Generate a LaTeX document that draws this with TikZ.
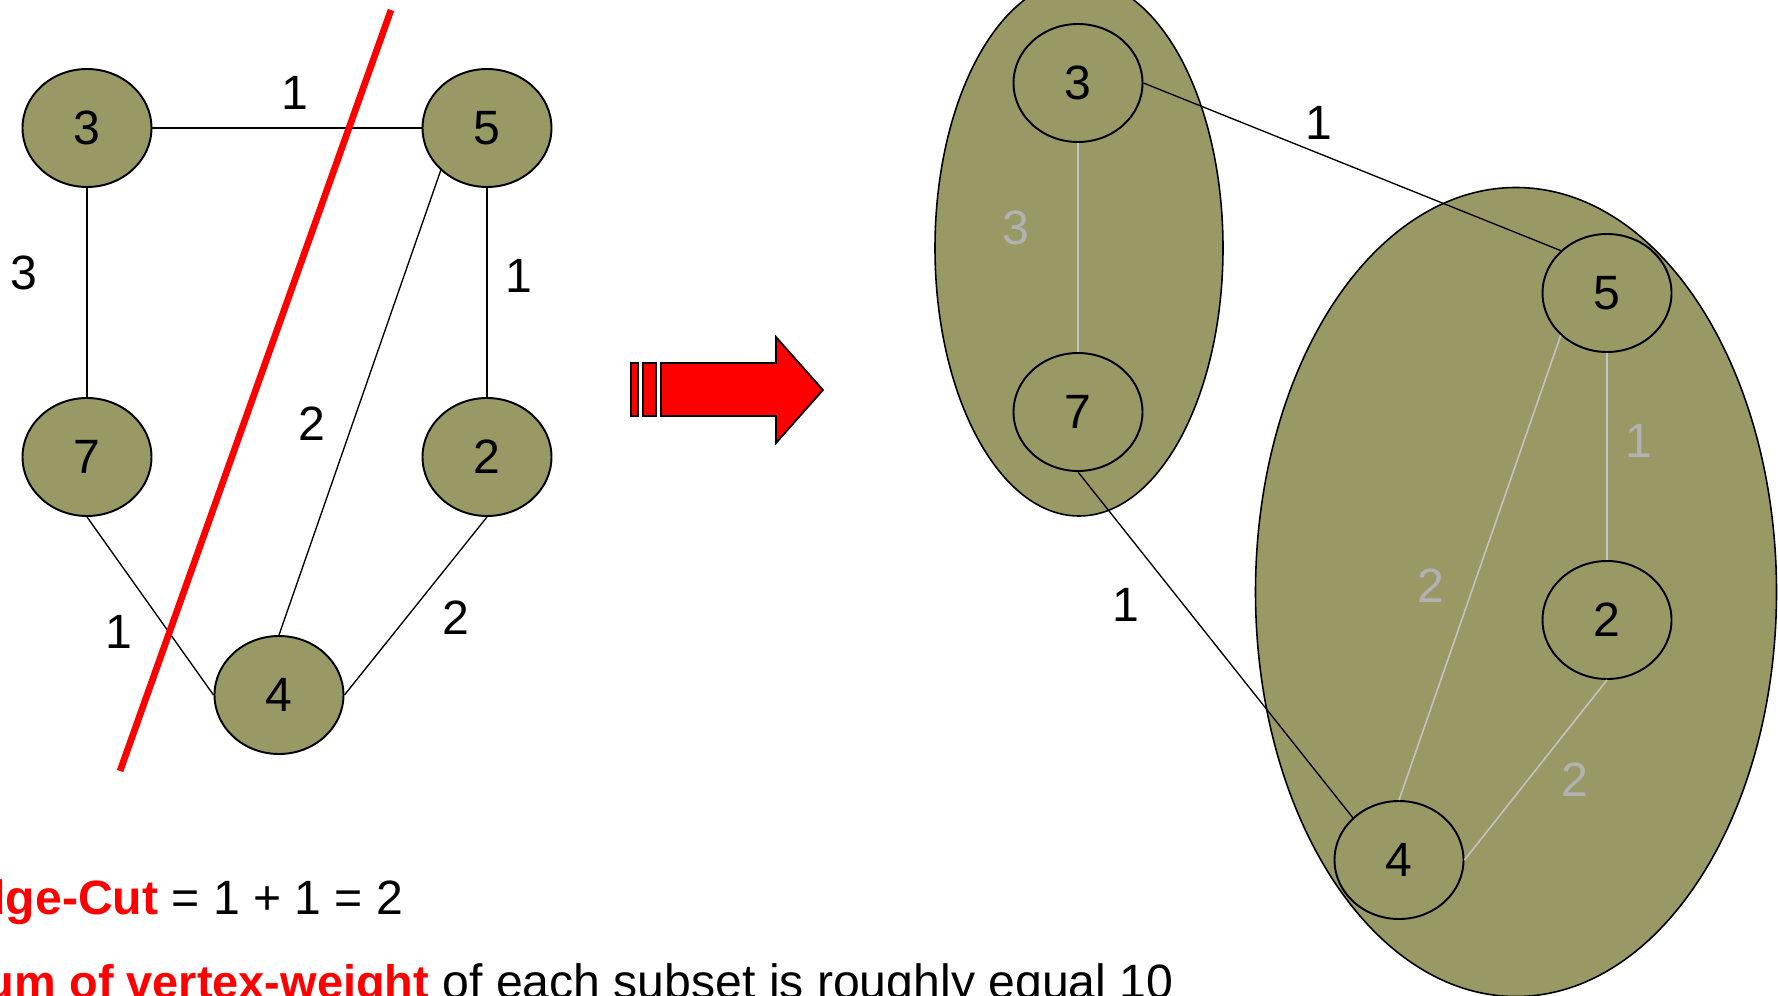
\documentclass[tikz,border=0pt]{standalone}
\usepackage{fontspec}
\setmainfont{Liberation Sans}
\usetikzlibrary{shapes.geometric,positioning}

\definecolor{vfill}{RGB}{153,153,102}
\definecolor{lightedge}{RGB}{195,195,195}
\definecolor{lightlabel}{RGB}{178,178,178}

\begin{document}
\begin{tikzpicture}[every node/.style={font=\fontsize{13.7}{16}\selectfont}]
    \tikzstyle{vertex} = [ellipse, draw, line width=0.55pt, minimum width=1.29cm, minimum height=1.18cm, inner sep=0pt]
    \tikzstyle{filled} = [vertex, fill=vfill]
    \tikzstyle{subset} = [ellipse, draw, line width=0.45pt, fill=vfill, inner sep=0pt]
    \tikzstyle{line} = [draw, line width=0.38pt]
    \tikzstyle{faint} = [draw, lightedge, line width=0.45pt]
    \tikzstyle{wlabel} = [inner sep=0pt]
    \tikzstyle{faintlabel} = [wlabel, text=lightlabel]
    \tikzstyle{arrowpart} = [draw, fill=red, line width=0.5pt]

    \useasboundingbox (0,0) rectangle (17.78,-9.96);
    \clip (0,0) rectangle (17.78,-9.96);

    % original graph
    \node [filled] (l3) at (0.87,-1.28) {3};
    \node [filled] (l5) at (4.87,-1.28) {5};
    \node [filled] (l7) at (0.87,-4.57) {7};
    \node [filled] (l2) at (4.87,-4.57) {2};
    \node [filled] (l4) at (2.79,-6.95) {4};

    \path [line] (l3.east) -- (l5.west);
    \path [line] (l3.south) -- (l7.north);
    \path [line] (l5.south) -- (l2.north);
    \path [line] (l5.south west) -- (l4.north);
    \path [line] (l7.south) -- (l4.west);
    \path [line] (l2.south) -- (l4.east);

    \node [wlabel] (w35) at (2.95,-0.93) {1};
    \node [wlabel] (w37) at (0.24,-2.73) {3};
    \node [wlabel] (w52) at (5.19,-2.76) {1};
    \node [wlabel] (w54) at (3.12,-4.24) {2};
    \node [wlabel] (w74) at (1.19,-6.32) {1};
    \node [wlabel] (w24) at (4.56,-6.18) {2};

    % the cut
    \coordinate (cutTop) at (3.91,-0.10);
    \coordinate (cutBottom) at (1.20,-7.71);
    \draw [red, line width=1.9pt] (cutTop) -- (cutBottom);

    % big arrow
    \path [arrowpart] (6.31,-3.63) rectangle (6.38,-4.16);
    \path [arrowpart] (6.43,-3.63) rectangle (6.56,-4.16);
    \path [arrowpart] (6.61,-3.63) -- (7.76,-3.63) -- (7.76,-3.37) -- (8.23,-3.90)
        -- (7.76,-4.43) -- (7.76,-4.16) -- (6.61,-4.16) -- cycle;

    % partitioned graph
    \node [subset, minimum width=2.88cm, minimum height=5.36cm] (partA) at (10.79,-2.48) {};
    \node [subset, minimum width=5.21cm, minimum height=8.09cm] (partB) at (15.16,-5.92) {};

    \node [vertex] (r3) at (10.78,-0.83) {3};
    \node [vertex] (r7) at (10.78,-4.12) {7};
    \node [vertex] (r5) at (16.07,-2.93) {5};
    \node [vertex] (r2) at (16.07,-6.20) {2};
    \node [vertex] (r4) at (13.99,-8.60) {4};

    \path [faint] (r3.south) -- (r7.north);
    \path [faint] (r5.south) -- (r2.north);
    \path [faint] (r5.south west) -- (r4.north);
    \path [faint] (r2.south) -- (r4.east);
    \path [line] (r3.east) -- (r5.north west);
    \path [line] (r7.south) -- (r4.north west);

    \node [wlabel] (c35) at (13.19,-1.23) {1};
    \node [wlabel] (c74) at (11.26,-6.05) {1};
    \node [faintlabel] (c37) at (10.16,-2.28) {3};
    \node [faintlabel] (c52) at (16.39,-4.41) {1};
    \node [faintlabel] (c54) at (14.31,-5.86) {2};
    \node [faintlabel] (c24) at (15.75,-7.80) {2};

    % totals
    \node [anchor=base east, inner sep=0pt] (cutText) at (4.04,-9.14)
        {\textcolor{red}{\textbf{Edge-Cut}} = 1 + 1 = 2};
    \node [anchor=base east, inner sep=0pt] (sumText) at (11.74,-9.98)
        {\textcolor{red}{\fontsize{13.35}{16}\selectfont\textbf{Sum of vertex-weight}} of each subset is roughly equal 10};
\end{tikzpicture}
\end{document}
